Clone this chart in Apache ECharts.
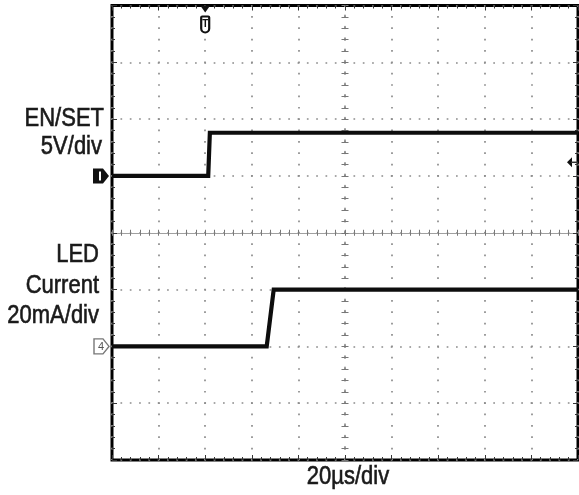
<!DOCTYPE html>
<html>
<head>
<meta charset="utf-8">
<script src="https://cdn.jsdelivr.net/npm/echarts@6/dist/echarts.min.js"></script>
<style>
  html, body { margin: 0; padding: 0; background: #ffffff; }
  #main { width: 579px; height: 495px; }
</style>
</head>
<body>
<div id="main"></div>
<script>
// Time axis: microseconds relative to screen centre, 20 µs per division
const timeRange = [-100, 100];
const timePerDiv = 20;
// Vertical axis: screen divisions
const divRange = [-4, 4];

// Channel 1: EN/SET voltage, 5 V/div, ground reference one division above centre
const enTime = [-100, -58.7, -58.0, 100];
const enVolts = [0, 0, 3.8, 3.8];
const enVoltsPerDiv = 5;
const enGroundDiv = 1;

// Channel 4: LED current, 20 mA/div, ground reference two divisions below centre
const ledTime = [-100, -33.6, -30.6, 100];
const ledMilliamps = [0, 0, 20, 20];
const ledMaPerDiv = 20;
const ledGroundDiv = -2;

// Trigger position (µs) and trigger level (V on EN/SET)
const triggerTime = [-60];
const triggerLevelVolts = [1.2];

// Annotation text
const enLabels = ['EN/SET', '5V/div'];
const ledLabels = ['LED', 'Current', '20mA/div'];
const timebaseLabel = '20µs/div';

const FONT = "'Liberation Sans', Arial, sans-serif";
const GRID_DOT = '#8c8c8c';
const TRACE = '#0d0d0d';

const enPoints = enTime.map((t, i) => [t, enVolts[i] / enVoltsPerDiv + enGroundDiv]);
const ledPoints = ledTime.map((t, i) => [t, ledMilliamps[i] / ledMaPerDiv + ledGroundDiv]);

const chart = echarts.init(document.getElementById('main'), null, { renderer: 'canvas' });

function frameX(position, extra) {
  return Object.assign({
    type: 'value', min: timeRange[0], max: timeRange[1], interval: timePerDiv,
    position: position,
    axisLine: { show: false, onZero: false },
    axisTick: { show: true, inside: true, length: 5, lineStyle: { color: '#333', width: 1 } },
    minorTick: { show: true, splitNumber: 5, length: 3, lineStyle: { color: '#333', width: 1 } },
    axisLabel: { show: false },
    splitLine: { show: false }
  }, extra || {});
}
function frameY(position, extra) {
  return Object.assign({
    type: 'value', min: divRange[0], max: divRange[1], interval: 1,
    position: position,
    axisLine: { show: false, onZero: false },
    axisTick: { show: true, inside: true, length: 5, lineStyle: { color: '#333', width: 1 } },
    minorTick: { show: true, splitNumber: 5, length: 3, lineStyle: { color: '#333', width: 1 } },
    axisLabel: { show: false },
    splitLine: { show: false }
  }, extra || {});
}

const option = {
  animation: false,
  backgroundColor: '#ffffff',
  grid: {
    left: 112, right: 1, top: 5.5, bottom: 35,
    show: true, borderColor: '#000000', borderWidth: 3, backgroundColor: 'transparent'
  },
  xAxis: [
    frameX('bottom', {
      splitLine: { show: true, lineStyle: { color: GRID_DOT, width: 1.7, type: [1.7, 9.66], dashOffset: 0.85 } }
    }),
    frameX('top'),
    // centre horizontal graticule line with crossing ticks
    frameX('bottom', {
      axisLine: { show: true, onZero: true, onZeroAxisIndex: 0, lineStyle: { color: '#a0a0a0', width: 1 } },
      axisTick: { show: true, inside: true, length: 3, lineStyle: { color: '#777', width: 1 } },
      minorTick: { show: true, splitNumber: 5, length: 3, lineStyle: { color: '#777', width: 1 } }
    }),
    frameX('bottom', {
      axisLine: { show: false, onZero: true, onZeroAxisIndex: 0 },
      axisTick: { show: true, inside: false, length: 3, lineStyle: { color: '#777', width: 1 } },
      minorTick: { show: true, splitNumber: 5, length: 3, lineStyle: { color: '#777', width: 1 } }
    })
  ],
  yAxis: [
    frameY('left', {
      splitLine: { show: true, lineStyle: { color: GRID_DOT, width: 1.7, type: [1.7, 7.62], dashOffset: 0.85 } }
    }),
    frameY('right'),
    // centre vertical graticule line with crossing ticks
    frameY('left', {
      axisLine: { show: true, onZero: true, onZeroAxisIndex: 0, lineStyle: { color: GRID_DOT, width: 1.7, type: [1.7, 9.66] } },
      axisTick: { show: true, inside: true, length: 3.5, lineStyle: { color: '#777', width: 1 } },
      minorTick: { show: true, splitNumber: 5, length: 3.5, lineStyle: { color: '#777', width: 1 } }
    }),
    frameY('left', {
      axisLine: { show: false, onZero: true, onZeroAxisIndex: 0 },
      axisTick: { show: true, inside: false, length: 3.5, lineStyle: { color: '#777', width: 1 } },
      minorTick: { show: true, splitNumber: 5, length: 3.5, lineStyle: { color: '#777', width: 1 } }
    })
  ],
  series: [
    {
      name: 'EN/SET', type: 'line', xAxisIndex: 0, yAxisIndex: 0,
      data: enPoints, showSymbol: false, symbol: 'none', z: 5,
      lineStyle: { color: TRACE, width: 4.2, join: 'miter' }
    },
    {
      name: 'LED Current', type: 'line', xAxisIndex: 0, yAxisIndex: 0,
      data: ledPoints, showSymbol: false, symbol: 'none', z: 5,
      lineStyle: { color: TRACE, width: 4.2, join: 'miter' }
    }
  ]
};

chart.setOption(option);

// Markers and annotations placed through the chart's own coordinate system
const px = (t, d) => chart.convertToPixel({ gridIndex: 0 }, [t, d]);
const topLeft = px(timeRange[0], divRange[1]);
const bottomRight = px(timeRange[1], divRange[0]);
const gLeft = topLeft[0], gTop = topLeft[1], gRight = bottomRight[0], gBottom = bottomRight[1];

const trigX = px(triggerTime[0], 0)[0];
const enGroundY = px(0, enGroundDiv)[1];
const ledGroundY = px(0, ledGroundDiv)[1];
const trigLevelY = px(0, triggerLevelVolts[0] / enVoltsPerDiv + enGroundDiv)[1];

// Slightly condensed annotation text (horizontal squeeze about its anchor)
const label = (text, x, y, align) => ({
  type: 'text', z: 20, x: x, y: y, scaleX: 0.88, scaleY: 1,
  style: {
    text: text, x: 0, y: 0, fill: '#1a1a1a', stroke: '#1a1a1a', lineWidth: 0.6,
    fontSize: 25, fontFamily: FONT, align: align || 'right', verticalAlign: 'middle'
  }
});

const graphics = [
  // trigger position marker
  { type: 'polygon', z: 20, shape: { points: [[trigX - 5, gTop], [trigX + 5, gTop], [trigX, gTop + 7]] }, style: { fill: '#111' } },
  { type: 'rect', z: 20, shape: { x: trigX - 4, y: gTop + 11, width: 8, height: 16, r: [1, 1, 4, 4] }, style: { fill: '#fff', stroke: '#111', lineWidth: 2.2 } },
  { type: 'text', z: 21, style: { text: 'T', x: trigX, y: gTop + 18.5, fill: '#111', fontSize: 10, fontWeight: 'bold', fontFamily: FONT, align: 'center', verticalAlign: 'middle' } },

  // channel 1 ground marker
  { type: 'polygon', z: 20, shape: { points: [[gLeft - 19, enGroundY - 7.5], [gLeft - 9, enGroundY - 7.5], [gLeft - 3, enGroundY], [gLeft - 9, enGroundY + 7.5], [gLeft - 19, enGroundY + 7.5]] }, style: { fill: '#111' } },
  { type: 'rect', z: 21, shape: { x: gLeft - 13, y: enGroundY - 4.5, width: 2, height: 9 }, style: { fill: '#fff' } },

  // channel 4 ground marker
  { type: 'polygon', z: 20, shape: { points: [[gLeft - 18, ledGroundY - 7.5], [gLeft - 9, ledGroundY - 7.5], [gLeft - 3, ledGroundY], [gLeft - 9, ledGroundY + 7.5], [gLeft - 18, ledGroundY + 7.5]] }, style: { fill: '#fff', stroke: '#777', lineWidth: 1.4 } },
  { type: 'text', z: 21, style: { text: '4', x: gLeft - 11, y: ledGroundY + 0.5, fill: '#555', fontSize: 11, fontFamily: FONT, align: 'center', verticalAlign: 'middle' } },

  // trigger level marker
  { type: 'polygon', z: 20, shape: { points: [[gRight - 11, trigLevelY], [gRight - 6, trigLevelY - 5], [gRight - 6, trigLevelY + 5]] }, style: { fill: '#111' } },
  { type: 'line', z: 20, shape: { x1: gRight - 7, y1: trigLevelY, x2: gRight, y2: trigLevelY }, style: { stroke: '#333', lineWidth: 1.5 } },

  // channel annotations
  label(enLabels[0], 104, 119),
  label(enLabels[1], 102, 147),
  label(ledLabels[0], 99, 255),
  label(ledLabels[1], 99, 286),
  label(ledLabels[2], 99, 316),
  label(timebaseLabel, (gLeft + gRight) / 2 + 3, 477, 'center')
];

chart.setOption({ graphic: graphics });
</script>
</body>
</html>
